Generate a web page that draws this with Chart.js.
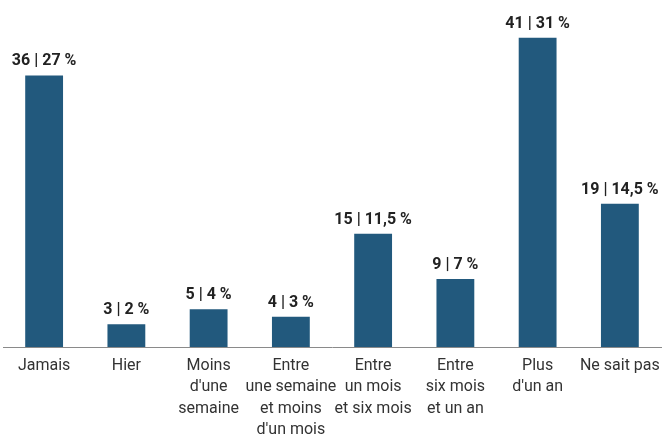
<!DOCTYPE html>
<html lang="fr">
<head>
  <meta charset="utf-8">
  <title>Barres</title>
  <style>
    body { margin: 0; background: #ffffff; }
    #wrap { width: 669px; height: 439px; }
  </style>
  <script src="https://cdn.jsdelivr.net/npm/chart.js@4/dist/chart.umd.min.js"></script>
</head>
<body>
  <div id="wrap"><canvas id="graph" width="669" height="439"></canvas></div>
  <script>
    // catégories (lignes multiples)
    var categories = [
      ['Jamais'],
      ['Hier'],
      ['Moins', "d'une", 'semaine'],
      ['Entre', 'une semaine', 'et moins', "d'un mois"],
      ['Entre', 'un mois', 'et six mois'],
      ['Entre', 'six mois', 'et un an'],
      ['Plus', "d'un an"],
      ['Ne sait pas']
    ];
    var counts = [36, 3, 5, 4, 15, 9, 41, 19];
    var percents = ['27 %', '2 %', '4 %', '3 %', '11,5 %', '7 %', '31 %', '14,5 %'];

    var valueLabels = {
      id: 'valueLabels',
      afterDatasetsDraw: function (chart) {
        var ctx = chart.ctx;
        var meta = chart.getDatasetMeta(0);
        ctx.save();
        ctx.font = 'bold 16px Roboto';
        ctx.fillStyle = '#222222';
        ctx.textAlign = 'center';
        ctx.textBaseline = 'bottom';
        meta.data.forEach(function (bar, i) {
          ctx.fillText(counts[i] + ' | ' + percents[i], bar.x, bar.y - 6);
        });
        ctx.restore();
      }
    };

    new Chart(document.getElementById('graph').getContext('2d'), {
      type: 'bar',
      data: {
        labels: categories,
        datasets: [{
          data: counts,
          backgroundColor: '#22597d',
          categoryPercentage: 1,
          barPercentage: 0.46
        }]
      },
      options: {
        responsive: false,
        animation: false,
        layout: { padding: { left: 3, right: 8, top: 0, bottom: 0 } },
        plugins: {
          legend: { display: false },
          tooltip: { enabled: false }
        },
        scales: {
          x: {
            grid: { display: false },
            border: { display: true, color: '#8a8a8a', width: 1 },
            ticks: {
              color: '#333333',
              font: { family: 'Roboto', size: 16, lineHeight: 1.34 },
              maxRotation: 0,
              autoSkip: false,
              padding: 0
            },
            afterFit: function (scale) { scale.height = 92; }
          },
          y: {
            display: false,
            min: 0,
            max: 46
          }
        }
      },
      plugins: [valueLabels]
    });
  </script>
</body>
</html>
